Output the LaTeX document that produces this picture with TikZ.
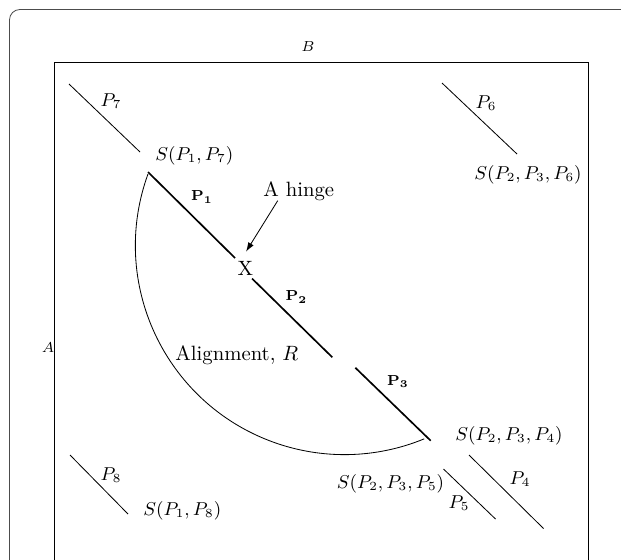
\documentclass[tikz,border=0pt]{standalone}
\usetikzlibrary{arrows.meta}
\begin{document}
\begin{tikzpicture}[x=0.483pt,y=-0.483pt,
  lbl/.style={font=\small, inner sep=0pt},
  tinylbl/.style={font=\scriptsize, inner sep=0pt},
  biglbl/.style={font=\normalsize, inner sep=0pt},
  seg/.style={thick},
  frag/.style={line width=0.4pt}]
\useasboundingbox (0,0) rectangle (621,559);
\clip (0,0) rectangle (621,559);
% frames
\draw[black!70, rounded corners=5pt] (9.5,9.5) rectangle (720,720);
\draw (54.5,62) rectangle (588.5,720);
\node[tinylbl] (B) at (308,47) {$B$};
\node[tinylbl] (A) at (48,348) {$A$};
% fragments
\coordinate (p7a) at (69,84);   \coordinate (p7b) at (140,152);
\coordinate (p6a) at (442,83);  \coordinate (p6b) at (517,154);
\coordinate (p8a) at (70,455);  \coordinate (p8b) at (128,514);
\coordinate (p5a) at (443.5,469); \coordinate (p5b) at (495.5,519);
\coordinate (p4a) at (469,455); \coordinate (p4b) at (543.5,528.5);
\draw[frag] (p7a) -- (p7b);
\draw[frag] (p6a) -- (p6b);
\draw[frag] (p8a) -- (p8b);
\draw[frag] (p5a) -- (p5b);
\draw[frag] (p4a) -- (p4b);
\node[lbl] (P7) at (111,101) {$P_7$};
\node[lbl] (P6) at (486,103) {$P_6$};
\node[lbl] (P8) at (111,475) {$P_8$};
\node[lbl] (P5) at (459,503) {$P_5$};
\node[lbl] (P4) at (520,479) {$P_4$};
\node[lbl, anchor=base west] (S17) at (155,160) {$S(P_1,P_7)$};
\node[lbl, anchor=base west] (S236) at (474,179.5) {$S(P_2,P_3,P_6)$};
\node[lbl, anchor=base west] (S234) at (455,440) {$S(P_2,P_3,P_4)$};
\node[lbl, anchor=base west] (S18) at (143,515) {$S(P_1,P_8)$};
\node[lbl, anchor=base east] (S235) at (444.5,488) {$S(P_2,P_3,P_5)$};
% alignment
\coordinate (s1a) at (148,172);   \coordinate (s1b) at (235,258);
\coordinate (s2a) at (252,278.5); \coordinate (s2b) at (332.3,357.3);
\coordinate (s3a) at (355.3,367.7); \coordinate (s3b) at (430.7,440.7);
\draw[seg] (s1a) -- (s1b);
\draw[seg] (s2a) -- (s2b);
\draw[seg] (s3a) -- (s3b);
\node[tinylbl] (bP1) at (202,197) {$\mathbf{P_1}$};
\node[tinylbl] (bP2) at (296.5,297) {$\mathbf{P_2}$};
\node[tinylbl] (bP3) at (398,381.7) {$\mathbf{P_3}$};
\node[biglbl, anchor=base] (X) at (245.5,275) {X};
\node[biglbl, anchor=base west] (hinge) at (263,196) {A hinge};
\coordinate (arrS) at (277.7,200.7);
\coordinate (arrE) at (246,251.7);
\draw[-{Latex[length=4.5pt,width=3pt]}] (arrS) -- (arrE);
\coordinate (arcS) at (148,174);
\draw (arcS) arc[start angle=160, end angle=292.4, radius=101pt];
\node[biglbl, anchor=base west] (R) at (175,360) {Alignment, $R$};
\end{tikzpicture}
\end{document}
